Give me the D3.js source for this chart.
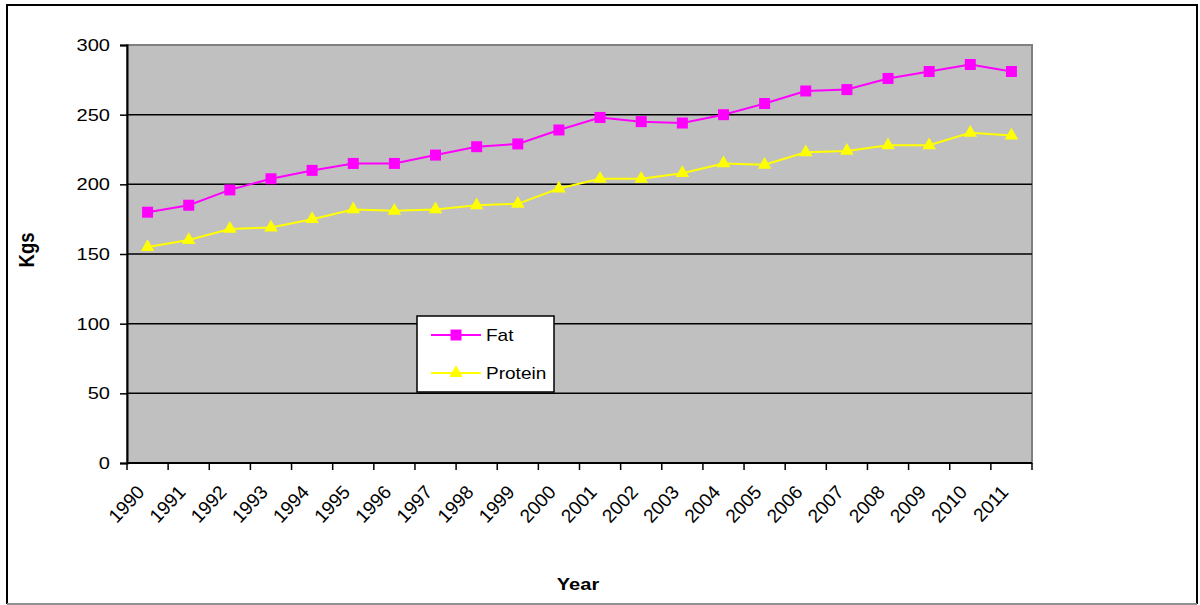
<!DOCTYPE html>
<html>
<head>
<meta charset="utf-8">
<script src="https://cdn.jsdelivr.net/npm/d3@7"></script>
<style>
  html, body { margin: 0; padding: 0; background: #fff; }
  svg { display: block; }
  text { font-family: "Liberation Sans", Arial, sans-serif; fill: #000; }
</style>
</head>
<body>
<svg id="chart" width="1200" height="605"></svg>
<script>
// Annual milk solids per cow (kg)
const years = ["1990","1991","1992","1993","1994","1995","1996","1997","1998","1999","2000",
               "2001","2002","2003","2004","2005","2006","2007","2008","2009","2010","2011"];
const fat     = [180,185,196,204,210,215,215,221,227,229,239,248,245,244,250,258,267,268,276,281,286,281];
const protein = [155,160,168,169,175,182,181,182,185,186,197,204,204,208,215,214,223,224,228,228,237,235];
const yTicks  = [0,50,100,150,200,250,300];
const seriesNames = ["Fat","Protein"];

const svg = d3.select("#chart");
const plot = { left: 127, right: 1032, top: 45, bottom: 463 };
const SX = 1.18; // wide text rendering

const x = d3.scaleBand().domain(years).range([plot.left, plot.right]);
const y = d3.scaleLinear().domain([0, 300]).range([plot.bottom, plot.top]);

// outer frame
svg.append("path")
  .attr("d", `M7,604 L7,5 L1197,5 L1197,604`)
  .attr("fill", "none").attr("stroke", "#000").attr("stroke-width", 2);
svg.append("line").attr("x1", 7).attr("x2", 1197).attr("y1", 604).attr("y2", 604)
  .attr("stroke", "#909090").attr("stroke-width", 2);

// plot background
svg.append("rect")
  .attr("x", plot.left).attr("y", plot.top)
  .attr("width", plot.right - plot.left).attr("height", plot.bottom - plot.top)
  .attr("fill", "#c0c0c0").attr("stroke", "#808080").attr("stroke-width", 2);

// horizontal gridlines
svg.append("g").selectAll("line")
  .data(yTicks.filter(d => d > 0 && d < 300))
  .join("line")
  .attr("x1", plot.left).attr("x2", plot.right)
  .attr("y1", d => y(d)).attr("y2", d => y(d))
  .attr("stroke", "#000").attr("stroke-width", 1.5);

// y axis
const yAxis = svg.append("g")
  .attr("transform", `translate(${plot.left},0)`)
  .call(d3.axisLeft(y).tickValues(yTicks).tickSize(7).tickPadding(0));
yAxis.select(".domain").attr("stroke", "#000").attr("stroke-width", 2);
yAxis.selectAll(".tick line").attr("stroke", "#000").attr("stroke-width", 1.5);
yAxis.selectAll(".tick text")
  .attr("x", 0)
  .attr("transform", `translate(-17,0) scale(${SX},1)`)
  .style("font-family", "Liberation Sans, Arial, sans-serif")
  .style("font-size", "17px").attr("fill", "#000");

// x axis: ticks at category boundaries
const bounds = years.map(d => x(d)).concat([plot.right]);
svg.append("line")
  .attr("x1", plot.left).attr("x2", plot.right)
  .attr("y1", plot.bottom).attr("y2", plot.bottom)
  .attr("stroke", "#000").attr("stroke-width", 2);
svg.append("g").selectAll("line")
  .data(bounds)
  .join("line")
  .attr("x1", d => d).attr("x2", d => d)
  .attr("y1", plot.bottom).attr("y2", plot.bottom + 7)
  .attr("stroke", "#000").attr("stroke-width", 1.5);

svg.append("g").selectAll("text")
  .data(years)
  .join("text")
  .attr("transform", d => `translate(${x(d) + x.bandwidth() / 2 - 2},${plot.bottom + 30}) rotate(-47)`)
  .attr("text-anchor", "end")
  .style("font-size", "19px")
  .text(d => d);

// axis titles
svg.append("text")
  .attr("transform", `translate(578,590) scale(${SX},1)`)
  .attr("text-anchor", "middle")
  .style("font-size", "17px").style("font-weight", "bold")
  .text("Year");
svg.append("text")
  .attr("transform", `translate(34,250) scale(${SX},1) rotate(-90)`)
  .attr("text-anchor", "middle")
  .style("font-size", "18.5px").style("font-weight", "bold")
  .text("Kgs");

// series
const cx = d => x(d) + x.bandwidth() / 2;
const line = d3.line().x((v, i) => cx(years[i])).y(v => y(v));
const sq = d3.symbol().type(d3.symbolSquare).size(121);
const tri = d3.symbol().type(d3.symbolTriangle).size(80);

svg.append("path").datum(protein)
  .attr("d", line).attr("fill", "none").attr("stroke", "#ffff00").attr("stroke-width", 2);
svg.append("g").selectAll("path")
  .data(protein)
  .join("path")
  .attr("transform", (v, i) => `translate(${cx(years[i])},${y(v)})`)
  .attr("d", tri).attr("fill", "#ffff00");

svg.append("path").datum(fat)
  .attr("d", line).attr("fill", "none").attr("stroke", "#ff00ff").attr("stroke-width", 2);
svg.append("g").selectAll("path")
  .data(fat)
  .join("path")
  .attr("transform", (v, i) => `translate(${cx(years[i])},${y(v)})`)
  .attr("d", sq).attr("fill", "#ff00ff");

// legend
const legend = svg.append("g");
legend.append("rect")
  .attr("x", 417).attr("y", 316).attr("width", 137).attr("height", 76)
  .attr("fill", "#fff").attr("stroke", "#000").attr("stroke-width", 1.5);
const legendItems = [
  { name: seriesNames[0], color: "#ff00ff", sym: sq, y: 335 },
  { name: seriesNames[1], color: "#ffff00", sym: tri, y: 373 }
];
legendItems.forEach(it => {
  legend.append("line")
    .attr("x1", 431).attr("x2", 481).attr("y1", it.y).attr("y2", it.y)
    .attr("stroke", it.color).attr("stroke-width", 2);
  legend.append("path")
    .attr("transform", `translate(456,${it.y})`)
    .attr("d", it.sym).attr("fill", it.color);
  legend.append("text")
    .attr("transform", `translate(486,${it.y}) scale(1.12,1)`)
    .attr("dy", "0.35em")
    .style("font-size", "17px")
    .text(it.name);
});
</script>
</body>
</html>
